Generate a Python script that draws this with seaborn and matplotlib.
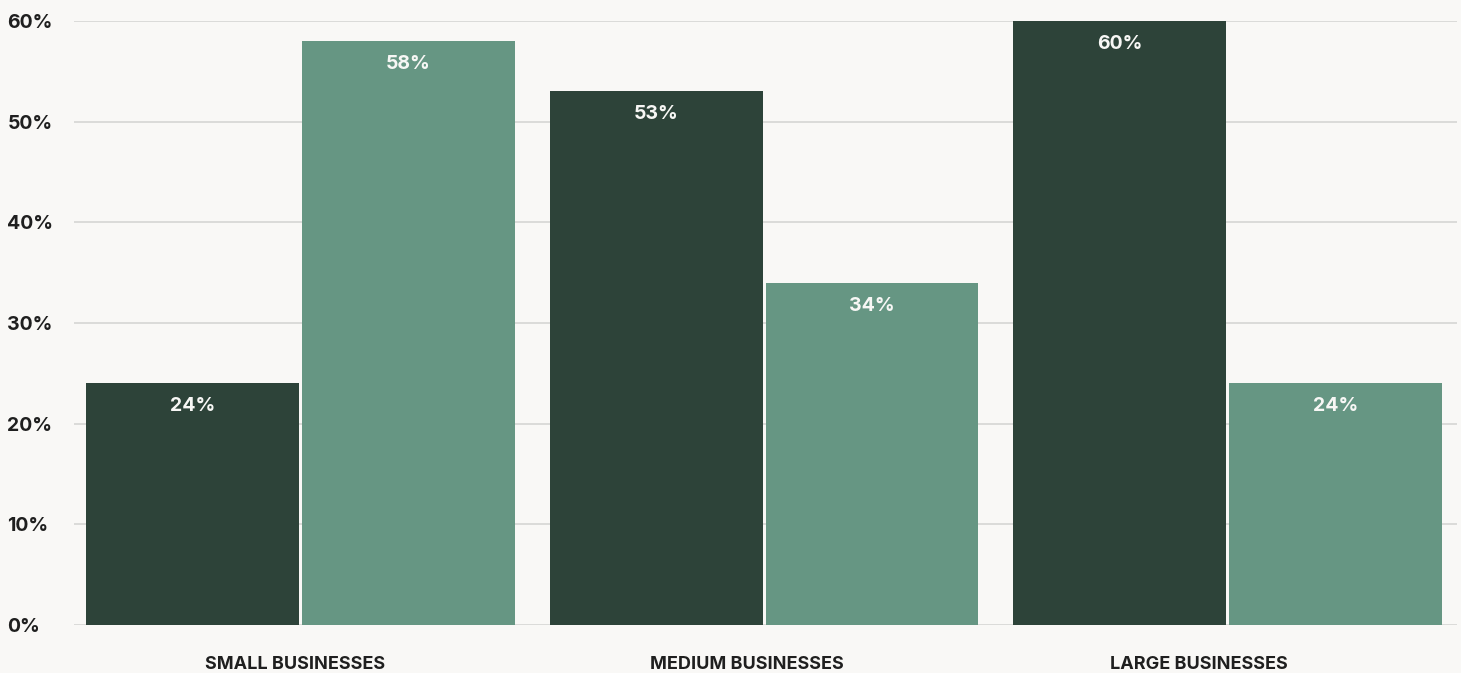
import numpy as np
import pandas as pd
import matplotlib
matplotlib.use("Agg")
import matplotlib.pyplot as plt
import seaborn as sns

# Share of respondents by company size, two response groups
categories = ["SMALL BUSINESSES", "MEDIUM BUSINESSES", "LARGE BUSINESSES"]
series_names = ["Group A", "Group B"]
group_a = [24, 53, 60]
group_b = [58, 34, 24]
y_ticks = [0, 10, 20, 30, 40, 50, 60]
y_tick_labels = ["0%", "10%", "20%", "30%", "40%", "50%", "60%"]

df = pd.DataFrame({
    "category": categories * 2,
    "series": [series_names[0]] * 3 + [series_names[1]] * 3,
    "value": group_a + group_b,
})

BG = "#f9f8f6"
DARK = "#2d4339"
LIGHT = "#669683"
TEXT = "#1f1f1f"
GRID = "#d6d6d4"
FONT = ["Inter", "DejaVu Sans"]

sns.set_theme(style="white")
plt.rcParams["font.family"] = FONT

fig = plt.figure(figsize=(14.61, 6.73), dpi=100, facecolor=BG)
W, H = 1461, 673
ax = fig.add_axes([74 / W, 48 / H, (1457 - 74) / W, (625 - 21) / H])
ax.set_facecolor(BG)

sns.barplot(
    data=df, x="category", y="value", hue="series",
    order=categories, hue_order=series_names,
    palette=[DARK, LIGHT], width=0.931, gap=0.014,
    saturation=1, linewidth=0, legend=False, ax=ax,
)

ax.set_ylim(0, 60)
ax.set_xlim(-0.4887, 2.4951)
ax.set_yticks(y_ticks)
ax.set_yticklabels(y_tick_labels)
ax.yaxis.grid(True, color=GRID, linewidth=1.2)
ax.set_axisbelow(True)
for side in ["top", "right", "left", "bottom"]:
    ax.spines[side].set_visible(False)

ax.tick_params(axis="y", length=0, pad=48, labelsize=14, labelcolor=TEXT)
for lbl in ax.get_yticklabels():
    lbl.set_horizontalalignment("left")
    lbl.set_fontweight("bold")

# category labels sit slightly left of the group centres
ax.set_xticks(np.arange(len(categories)) * 0.9752 - 0.012)
ax.set_xticklabels(categories)
ax.tick_params(axis="x", length=0, pad=22, labelsize=13, labelcolor=TEXT)
for lbl in ax.get_xticklabels():
    lbl.set_fontweight("bold")
    lbl.set_verticalalignment("top")

ax.set_xlabel("")
ax.set_ylabel("")

# value labels just inside the top of each bar
for container in ax.containers:
    for patch in container.patches:
        h = patch.get_height()
        ax.annotate(
            f"{h:.0f}%",
            (patch.get_x() + patch.get_width() / 2, h),
            xytext=(0, -16.5), textcoords="offset points",
            ha="center", va="center", color="#f7f7f5",
            fontsize=14, fontweight="bold", family=FONT,
        )

fig.savefig("out.png", dpi=100, facecolor=BG)
